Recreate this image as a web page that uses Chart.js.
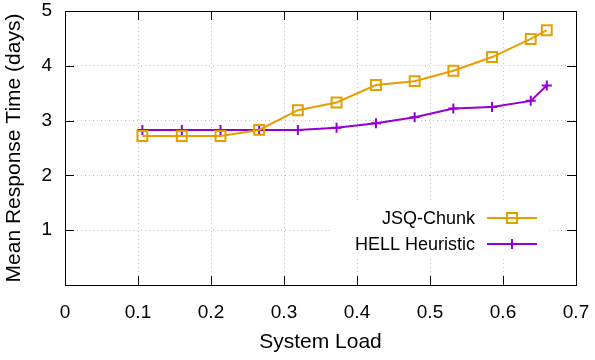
<!DOCTYPE html>
<html>
<head>
<meta charset="utf-8">
<script src="https://cdn.jsdelivr.net/npm/chart.js@4/dist/chart.umd.min.js"></script>
<style>
  html, body { margin: 0; padding: 0; background: #fff; }
  #wrap { width: 595px; height: 360px; }
</style>
</head>
<body>
<div id="wrap"><canvas id="chart" width="595" height="360"></canvas></div>
<script>
// System load (x) and mean response time in days (y)
const loads = [0.106, 0.160, 0.213, 0.266, 0.319, 0.372, 0.426, 0.479, 0.532, 0.585, 0.638, 0.660];
const jsqChunk = [2.72, 2.72, 2.72, 2.83, 3.19, 3.33, 3.65, 3.72, 3.91, 4.16, 4.49, 4.65];
const hellHeuristic = [2.83, 2.83, 2.83, 2.83, 2.83, 2.87, 2.95, 3.06, 3.22, 3.25, 3.36, 3.64];
const seriesNames = ['JSQ-Chunk', 'HELL Heuristic'];
const xTicks = [0, 0.1, 0.2, 0.3, 0.4, 0.5, 0.6, 0.7];
const yTicks = [0, 1, 2, 3, 4, 5];

const ORANGE = '#e69f00';
const PURPLE = '#9400d3';
const FONT = '"Liberation Sans", Arial, sans-serif';

const toPoints = (ys) => loads.map((x, i) => ({ x: x, y: ys[i] }));

// gnuplot style: inward ticks on all four sides, key box blanking the grid
const framePlugin = {
    id: 'frame',
    beforeDatasetsDraw(chart) {
        const ctx = chart.ctx;
        ctx.save();
        ctx.fillStyle = '#fff';
        ctx.fillRect(332, 201, 215, 58);
        ctx.restore();
    },
    afterDraw(chart) {
        const ctx = chart.ctx;
        const a = chart.chartArea;
        const xs = chart.scales.x;
        const ys = chart.scales.y;
        const len = 9;
        ctx.save();
        ctx.strokeStyle = '#000';
        ctx.lineWidth = 1;
        ctx.beginPath();
        xTicks.forEach(v => {
            const px = Math.round(xs.getPixelForValue(v)) + 0.5;
            ctx.moveTo(px, a.bottom); ctx.lineTo(px, a.bottom - len);
            ctx.moveTo(px, a.top); ctx.lineTo(px, a.top + len);
        });
        yTicks.forEach(v => {
            const py = Math.round(ys.getPixelForValue(v)) + 0.5;
            ctx.moveTo(a.left, py); ctx.lineTo(a.left + len, py);
            ctx.moveTo(a.right, py); ctx.lineTo(a.right - len, py);
        });
        ctx.stroke();
        ctx.strokeRect(Math.round(a.left) + 0.5, Math.round(a.top) + 0.5,
            Math.round(a.right - a.left), Math.round(a.bottom - a.top));

        // key
        ctx.font = '18px ' + FONT;
        ctx.fillStyle = '#000';
        ctx.textAlign = 'right';
        ctx.textBaseline = 'middle';
        const rows = [
            { label: seriesNames[0], color: ORANGE, y: 218, marker: 'square' },
            { label: seriesNames[1], color: PURPLE, y: 244, marker: 'plus' }
        ];
        rows.forEach(r => {
            ctx.fillText(r.label, 475, r.y + 1);
            ctx.strokeStyle = r.color;
            ctx.lineWidth = 2;
            ctx.beginPath();
            ctx.moveTo(487, r.y); ctx.lineTo(537, r.y);
            ctx.stroke();
            ctx.beginPath();
            if (r.marker === 'square') {
                ctx.rect(507, r.y - 5, 10, 10);
            } else {
                ctx.moveTo(512, r.y - 5); ctx.lineTo(512, r.y + 5);
            }
            ctx.stroke();
        });
        ctx.restore();
    }
};

new Chart(document.getElementById('chart'), {
    type: 'scatter',
    data: {
        datasets: [{
            label: seriesNames[0],
            data: toPoints(jsqChunk),
            showLine: true,
            borderColor: ORANGE,
            backgroundColor: 'rgba(0,0,0,0)',
            borderWidth: 2,
            pointStyle: 'rect',
            pointRadius: 7,
            pointBorderWidth: 2,
            pointBorderColor: ORANGE
        }, {
            label: seriesNames[1],
            data: toPoints(hellHeuristic),
            showLine: true,
            borderColor: PURPLE,
            backgroundColor: PURPLE,
            borderWidth: 2,
            pointStyle: 'cross',
            pointRadius: 5,
            pointBorderWidth: 2,
            pointBorderColor: PURPLE
        }]
    },
    options: {
        responsive: false,
        animation: false,
        layout: { padding: { top: 11, right: 19, left: 0, bottom: 0 } },
        plugins: {
            legend: { display: false },
            tooltip: { enabled: false }
        },
        scales: {
            x: {
                type: 'linear',
                min: 0,
                max: 0.7,
                afterFit: (s) => { s.height = 75; s.paddingLeft = 0; s.paddingRight = 0; },
                afterBuildTicks: (s) => { s.ticks = xTicks.map(v => ({ value: v })); },
                ticks: {
                    color: '#000',
                    font: { family: FONT, size: 19 },
                    padding: 16,
                    callback: (v) => String(Number(v.toFixed(1)))
                },
                grid: {
                    color: '#c4c4c4',
                    lineWidth: 1,
                    drawTicks: false
                },
                border: { display: false, dash: [1, 3] },
                title: {
                    display: true,
                    text: 'System Load',
                    color: '#000',
                    font: { family: FONT, size: 21 },
                    padding: { top: 6, bottom: 5 }
                }
            },
            y: {
                type: 'linear',
                min: 0,
                max: 5,
                afterFit: (s) => { s.width = 65; s.paddingTop = 0; s.paddingBottom = 0; },
                afterBuildTicks: (s) => { s.ticks = yTicks.map(v => ({ value: v })); },
                ticks: {
                    color: '#000',
                    font: { family: FONT, size: 19 },
                    padding: 13,
                    // the reference leaves the 0 on the y axis unlabelled
                    callback: (v) => (v === 0 ? '' : String(v))
                },
                grid: {
                    color: '#c4c4c4',
                    lineWidth: 1,
                    drawTicks: false
                },
                border: { display: false, dash: [1, 3] },
                title: {
                    display: true,
                    text: 'Mean Response Time (days)',
                    color: '#000',
                    font: { family: FONT, size: 21 },
                    padding: { top: 2, bottom: 4 }
                }
            }
        }
    },
    plugins: [framePlugin]
});
</script>
</body>
</html>
